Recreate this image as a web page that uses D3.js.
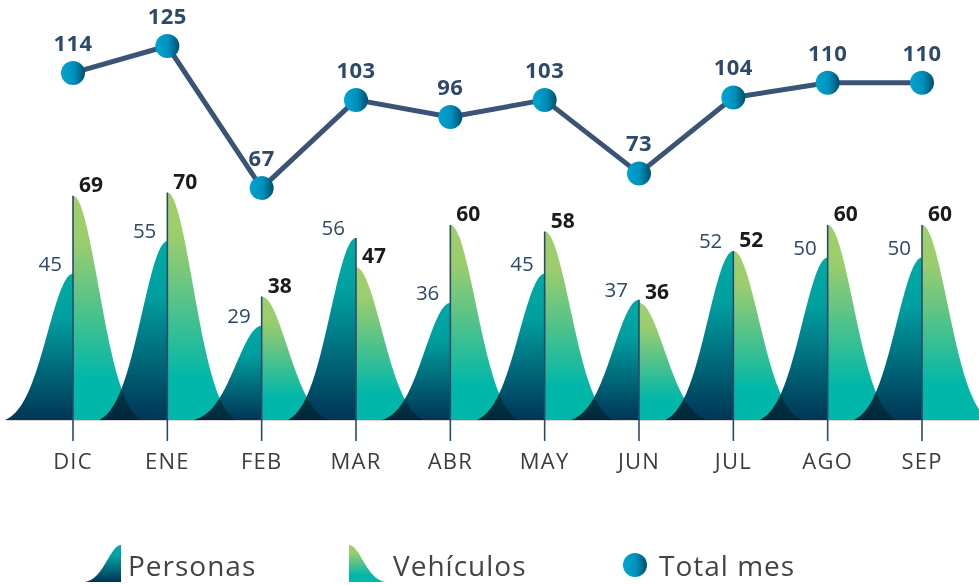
<!DOCTYPE html>
<html>
<head>
<meta charset="utf-8">
<script src="https://cdn.jsdelivr.net/npm/d3@7"></script>
<style>
  html, body { margin: 0; padding: 0; background: #ffffff; }
  svg { display: block; }
  .personas { mix-blend-mode: multiply; }
</style>
</head>
<body>
<div id="chart"></div>
<script>
const months = ["DIC", "ENE", "FEB", "MAR", "ABR", "MAY", "JUN", "JUL", "AGO", "SEP"];
const personas = [45, 55, 29, 56, 36, 45, 37, 52, 50, 50];
const vehiculos = [69, 70, 38, 47, 60, 58, 36, 52, 60, 60];
const totalMes = [114, 125, 67, 103, 96, 103, 73, 104, 110, 110];
const legendLabels = ["Personas", "Vehículos", "Total mes"];

const W = 979, H = 585;
const svg = d3.select("#chart").append("svg").attr("width", W).attr("height", H);
const defs = svg.append("defs");

// gradients
const gP = defs.append("linearGradient").attr("id", "gradP").attr("x1", 0).attr("y1", 0).attr("x2", 0).attr("y2", 1);
[[0, "#00aba4"], [0.3, "#009fa0"], [1, "#003556"]].forEach(s => gP.append("stop").attr("offset", s[0]).attr("stop-color", s[1]));
const gV = defs.append("linearGradient").attr("id", "gradV").attr("x1", 0).attr("y1", 0).attr("x2", 0).attr("y2", 1);
[[0, "#a0cf6b"], [0.2, "#9ccd6d"], [0.82, "#00b7aa"], [1, "#00b7aa"]].forEach(s => gV.append("stop").attr("offset", s[0]).attr("stop-color", s[1]));
const gT = defs.append("linearGradient").attr("id", "gradT").attr("x1", 0).attr("y1", 0).attr("x2", 1).attr("y2", 0);
[[0, "#00a6d3"], [0.55, "#008fbb"], [1, "#004e6d"]].forEach(s => gT.append("stop").attr("offset", s[0]).attr("stop-color", s[1]));

const x = d3.scalePoint().domain(months).range([73, 922]).padding(0);
const yBar = d3.scaleLinear().domain([0, 70]).range([420, 192.5]);
const yTot = d3.scaleLinear().domain([60, 130]).range([205.25, 33.75]);

const halfW = 68, sig = 25.5;
const e0 = Math.exp(-halfW * halfW / (2 * sig * sig));
const bell = dx => (Math.exp(-dx * dx / (2 * sig * sig)) - e0) / (1 - e0);
const offsets = d3.range(0, halfW + 0.5, 1);

const area = d3.area().x(d => d[0]).y0(yBar(0)).y1(d => d[1]);

// baseline
svg.append("line").attr("x1", 6).attr("x2", W).attr("y1", yBar(0) + 0.5).attr("y2", yBar(0) + 0.5)
  .attr("stroke", "#d6d6d6").attr("stroke-width", 1);

const gShapes = svg.append("g");
// vehicles (right halves)
months.forEach((m, i) => {
  const cx = x(m), h = yBar(0) - yBar(vehiculos[i]);
  const pts = offsets.map(dx => [cx + dx, yBar(0) - h * bell(dx)]);
  gShapes.append("path").attr("d", area(pts)).attr("fill", "url(#gradV)");
});
// personas (left halves)
months.forEach((m, i) => {
  const cx = x(m), h = yBar(0) - yBar(personas[i]);
  const pts = offsets.slice().reverse().map(dx => [cx - dx, yBar(0) - h * bell(dx)]);
  gShapes.append("path").attr("class", "personas").attr("d", area(pts)).attr("fill", "url(#gradP)");
});

// center lines
months.forEach((m, i) => {
  svg.append("line").attr("x1", x(m)).attr("x2", x(m))
    .attr("y1", yBar(Math.max(personas[i], vehiculos[i]))).attr("y2", 441)
    .attr("stroke", "#2b4a6a").attr("stroke-width", 1.6);
});

// month labels
svg.append("g").selectAll("text").data(months).join("text")
  .attr("x", d => x(d)).attr("y", 469).attr("text-anchor", "middle")
  .attr("font-family", "'Open Sans', sans-serif").attr("font-size", 22).attr("font-weight", 500)
  .attr("letter-spacing", 1.2).attr("fill", "#3d3d3d").text(d => d);

// bar labels
months.forEach((m, i) => {
  svg.append("text").attr("x", x(m) - 11).attr("y", yBar(personas[i]) - 3).attr("text-anchor", "end")
    .attr("font-family", "'Open Sans', sans-serif").attr("font-size", 20.5)
    .attr("fill", "#2d4a6b").text(personas[i]);
  svg.append("text").attr("x", x(m) + 6).attr("y", yBar(vehiculos[i]) - 4).attr("text-anchor", "start")
    .attr("font-family", "'Open Sans', sans-serif").attr("font-weight", 700).attr("font-size", 21)
    .attr("fill", "#1b1b1b").text(vehiculos[i]);
});

// total line
const line = d3.line().x((d, i) => x(months[i])).y(d => yTot(d));
svg.append("path").datum(totalMes).attr("d", line).attr("fill", "none")
  .attr("stroke", "#3b5374").attr("stroke-width", 5).attr("stroke-linejoin", "round");
svg.append("g").selectAll("circle").data(totalMes).join("circle")
  .attr("cx", (d, i) => x(months[i])).attr("cy", d => yTot(d)).attr("r", 12)
  .attr("fill", "url(#gradT)");
svg.append("g").selectAll("text").data(totalMes).join("text")
  .attr("x", (d, i) => x(months[i])).attr("y", d => yTot(d) - 22).attr("text-anchor", "middle")
  .attr("font-family", "'Open Sans', sans-serif").attr("font-weight", 700).attr("font-size", 22)
  .attr("letter-spacing", 0.5).attr("fill", "#2d4a6b").text(d => d);

// legend
const lg = svg.append("g");
const iconH = 37, iconW = 36, base = 582;
const iconPts = d3.range(0, iconW + 0.5, 1);
const iconBell = t => { const s = 0.38; const z = Math.exp(-1 / (2 * s * s)); return (Math.exp(-t * t / (2 * s * s)) - z) / (1 - z); };
lg.append("path").attr("fill", "url(#gradP)")
  .attr("d", d3.area().x(d => 121 - d).y0(base).y1(d => base - iconH * iconBell(d / iconW))(iconPts));
lg.append("path").attr("fill", "url(#gradV)")
  .attr("d", d3.area().x(d => 349 + d).y0(base).y1(d => base - iconH * iconBell(d / iconW))(iconPts));
lg.append("circle").attr("cx", 635).attr("cy", 565).attr("r", 12).attr("fill", "url(#gradT)");
const legX = [128, 393, 659];
legendLabels.forEach((t, i) => {
  lg.append("text").attr("x", legX[i]).attr("y", 576)
    .attr("font-family", "'Open Sans', sans-serif").attr("font-size", 28).attr("letter-spacing", 1)
    .attr("fill", "#444444").text(t);
});
</script>
</body>
</html>
